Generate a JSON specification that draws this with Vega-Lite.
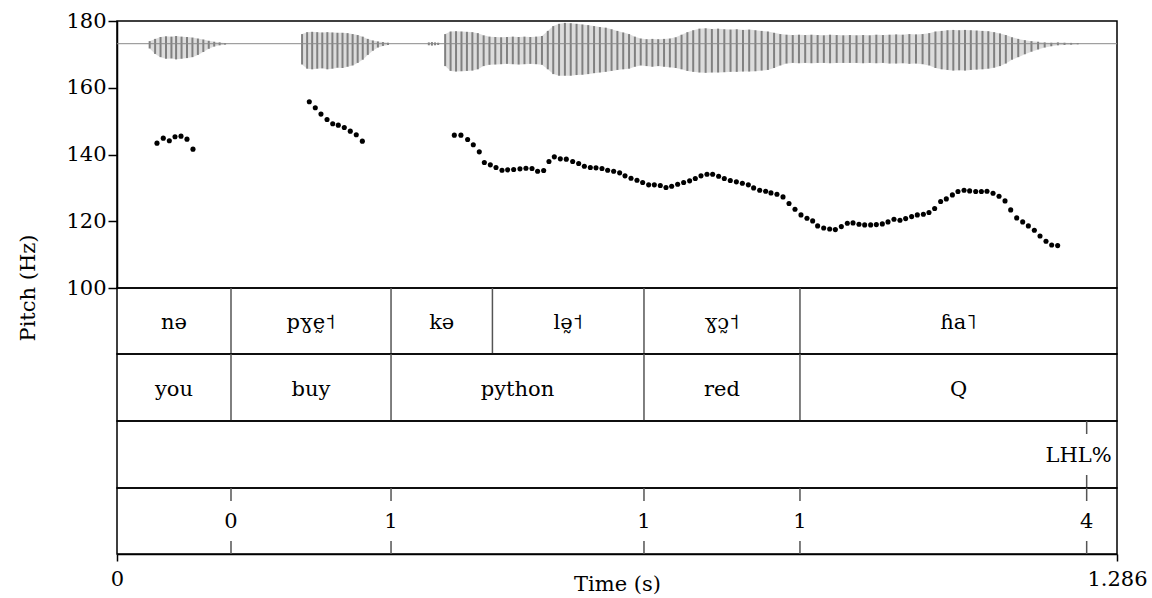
{
  "$schema": "https://vega.github.io/schema/vega-lite/v6.json",
  "padding": {"left": 16, "top": 9, "right": 5, "bottom": 5},
  "spacing": 0,
  "bounds": "flush",
  "config": {
    "view": {"stroke": "#000000", "strokeWidth": 1.5},
    "font": "DejaVu Serif",
    "axis": {
      "grid": false,
      "domainColor": "#000000",
      "domainWidth": 1.5,
      "tickColor": "#000000",
      "tickWidth": 1.5,
      "labelColor": "#000000",
      "titleColor": "#000000",
      "labelFont": "DejaVu Serif",
      "titleFont": "DejaVu Serif",
      "labelFontSize": 21,
      "titleFontSize": 21,
      "titleFontWeight": "normal"
    },
    "text": {"font": "DejaVu Serif", "fontSize": 21, "color": "#000000"}
  },
  "datasets": {
    "pitch": [
      {"t": 0.0514, "f0": 143.4}, {"t": 0.0595, "f0": 144.9}, {"t": 0.0673, "f0": 144.1}, {"t": 0.0746, "f0": 145.3},
      {"t": 0.0823, "f0": 145.5}, {"t": 0.0900, "f0": 144.6}, {"t": 0.0977, "f0": 141.6},
      {"t": 0.2473, "f0": 155.8}, {"t": 0.2550, "f0": 154.0}, {"t": 0.2623, "f0": 152.1}, {"t": 0.2701, "f0": 150.5},
      {"t": 0.2774, "f0": 149.2}, {"t": 0.2846, "f0": 148.8}, {"t": 0.2923, "f0": 148.1}, {"t": 0.3000, "f0": 147.0},
      {"t": 0.3077, "f0": 145.9}, {"t": 0.3155, "f0": 144.0},
      {"t": 0.4338, "f0": 145.8}, {"t": 0.4423, "f0": 145.8}, {"t": 0.4509, "f0": 144.5}, {"t": 0.4582, "f0": 142.9},
      {"t": 0.4659, "f0": 140.8}, {"t": 0.4724, "f0": 137.6}, {"t": 0.4801, "f0": 136.9}, {"t": 0.4874, "f0": 136.1},
      {"t": 0.4951, "f0": 135.3}, {"t": 0.5024, "f0": 135.4}, {"t": 0.5101, "f0": 135.5}, {"t": 0.5182, "f0": 135.7},
      {"t": 0.5259, "f0": 135.9}, {"t": 0.5337, "f0": 135.8}, {"t": 0.5409, "f0": 135.0}, {"t": 0.5487, "f0": 135.2},
      {"t": 0.5555, "f0": 137.9}, {"t": 0.5624, "f0": 139.3}, {"t": 0.5701, "f0": 138.7}, {"t": 0.5778, "f0": 138.6},
      {"t": 0.5860, "f0": 137.9}, {"t": 0.5937, "f0": 137.3}, {"t": 0.6010, "f0": 136.5}, {"t": 0.6087, "f0": 136.1},
      {"t": 0.6160, "f0": 136.0}, {"t": 0.6237, "f0": 135.8}, {"t": 0.6310, "f0": 135.3}, {"t": 0.6387, "f0": 135.0},
      {"t": 0.6464, "f0": 134.5}, {"t": 0.6533, "f0": 133.6}, {"t": 0.6610, "f0": 132.9}, {"t": 0.6687, "f0": 132.3},
      {"t": 0.6760, "f0": 131.6}, {"t": 0.6837, "f0": 130.9}, {"t": 0.6910, "f0": 130.9}, {"t": 0.6987, "f0": 130.7},
      {"t": 0.7060, "f0": 130.1}, {"t": 0.7133, "f0": 130.5}, {"t": 0.7210, "f0": 131.1}, {"t": 0.7287, "f0": 131.6},
      {"t": 0.7364, "f0": 132.1}, {"t": 0.7437, "f0": 132.8}, {"t": 0.7510, "f0": 133.6}, {"t": 0.7587, "f0": 134.1},
      {"t": 0.7660, "f0": 134.1}, {"t": 0.7737, "f0": 133.5}, {"t": 0.7810, "f0": 132.8}, {"t": 0.7887, "f0": 132.2},
      {"t": 0.7965, "f0": 131.8}, {"t": 0.8042, "f0": 131.4}, {"t": 0.8119, "f0": 130.9}, {"t": 0.8187, "f0": 130.0},
      {"t": 0.8265, "f0": 129.3}, {"t": 0.8342, "f0": 129.0}, {"t": 0.8410, "f0": 128.5}, {"t": 0.8487, "f0": 128.1},
      {"t": 0.8565, "f0": 127.3}, {"t": 0.8642, "f0": 125.3}, {"t": 0.8719, "f0": 123.6}, {"t": 0.8796, "f0": 121.9},
      {"t": 0.8873, "f0": 120.9}, {"t": 0.8946, "f0": 120.1}, {"t": 0.9010, "f0": 118.6}, {"t": 0.9088, "f0": 118.0},
      {"t": 0.9165, "f0": 117.7}, {"t": 0.9238, "f0": 117.5}, {"t": 0.9315, "f0": 118.4}, {"t": 0.9392, "f0": 119.4},
      {"t": 0.9465, "f0": 119.5}, {"t": 0.9542, "f0": 119.1}, {"t": 0.9615, "f0": 118.9}, {"t": 0.9692, "f0": 118.9},
      {"t": 0.9765, "f0": 119.0}, {"t": 0.9842, "f0": 119.2}, {"t": 0.9915, "f0": 119.8}, {"t": 0.9992, "f0": 120.6},
      {"t": 1.0069, "f0": 120.3}, {"t": 1.0142, "f0": 120.8}, {"t": 1.0219, "f0": 121.4}, {"t": 1.0292, "f0": 121.9},
      {"t": 1.0370, "f0": 122.1}, {"t": 1.0442, "f0": 122.6}, {"t": 1.0515, "f0": 123.8}, {"t": 1.0592, "f0": 125.9},
      {"t": 1.0665, "f0": 126.7}, {"t": 1.0743, "f0": 127.9}, {"t": 1.0815, "f0": 128.9}, {"t": 1.0893, "f0": 129.3},
      {"t": 1.0965, "f0": 129.1}, {"t": 1.1043, "f0": 128.9}, {"t": 1.1116, "f0": 128.9}, {"t": 1.1188, "f0": 129.0},
      {"t": 1.1266, "f0": 128.4}, {"t": 1.1343, "f0": 127.5}, {"t": 1.1420, "f0": 126.1}, {"t": 1.1493, "f0": 123.4},
      {"t": 1.1570, "f0": 121.0}, {"t": 1.1647, "f0": 119.8}, {"t": 1.1720, "f0": 118.6}, {"t": 1.1797, "f0": 117.3},
      {"t": 1.1870, "f0": 115.6}, {"t": 1.1947, "f0": 114.0}, {"t": 1.2020, "f0": 112.9}, {"t": 1.2097, "f0": 112.7}
    ],
    "wave": [
      {"t": 0.042, "hi": 0.08, "lo": -0.15}, {"t": 0.049, "hi": 0.15, "lo": -0.32}, {"t": 0.056, "hi": 0.21, "lo": -0.42},
      {"t": 0.063, "hi": 0.23, "lo": -0.47}, {"t": 0.070, "hi": 0.22, "lo": -0.46}, {"t": 0.076, "hi": 0.24, "lo": -0.49},
      {"t": 0.083, "hi": 0.22, "lo": -0.47}, {"t": 0.090, "hi": 0.21, "lo": -0.45}, {"t": 0.097, "hi": 0.19, "lo": -0.42},
      {"t": 0.104, "hi": 0.16, "lo": -0.35}, {"t": 0.111, "hi": 0.13, "lo": -0.26}, {"t": 0.118, "hi": 0.09, "lo": -0.16},
      {"t": 0.125, "hi": 0.06, "lo": -0.09}, {"t": 0.132, "hi": 0.04, "lo": -0.05}, {"t": 0.139, "hi": 0.02, "lo": -0.03},
      {"t": 0.238, "hi": 0.30, "lo": -0.65}, {"t": 0.2445, "hi": 0.36, "lo": -0.78}, {"t": 0.251, "hi": 0.37, "lo": -0.80},
      {"t": 0.2575, "hi": 0.36, "lo": -0.78}, {"t": 0.264, "hi": 0.35, "lo": -0.77}, {"t": 0.2705, "hi": 0.36, "lo": -0.80},
      {"t": 0.277, "hi": 0.35, "lo": -0.78}, {"t": 0.2835, "hi": 0.34, "lo": -0.75}, {"t": 0.290, "hi": 0.34, "lo": -0.76},
      {"t": 0.2965, "hi": 0.33, "lo": -0.72}, {"t": 0.303, "hi": 0.30, "lo": -0.68}, {"t": 0.3095, "hi": 0.27, "lo": -0.60},
      {"t": 0.316, "hi": 0.22, "lo": -0.50}, {"t": 0.3225, "hi": 0.15, "lo": -0.35}, {"t": 0.329, "hi": 0.10, "lo": -0.22},
      {"t": 0.3355, "hi": 0.07, "lo": -0.12}, {"t": 0.342, "hi": 0.05, "lo": -0.07}, {"t": 0.3485, "hi": 0.03, "lo": -0.04},
      {"t": 0.401, "hi": 0.04, "lo": -0.05}, {"t": 0.405, "hi": 0.05, "lo": -0.06}, {"t": 0.409, "hi": 0.04, "lo": -0.05},
      {"t": 0.413, "hi": 0.03, "lo": -0.04},
      {"t": 0.422, "hi": 0.30, "lo": -0.70}, {"t": 0.429, "hi": 0.38, "lo": -0.85}, {"t": 0.436, "hi": 0.39, "lo": -0.87},
      {"t": 0.443, "hi": 0.38, "lo": -0.86}, {"t": 0.450, "hi": 0.37, "lo": -0.85}, {"t": 0.457, "hi": 0.36, "lo": -0.84},
      {"t": 0.464, "hi": 0.33, "lo": -0.80}, {"t": 0.4715, "hi": 0.26, "lo": -0.70}, {"t": 0.479, "hi": 0.22, "lo": -0.66},
      {"t": 0.4865, "hi": 0.21, "lo": -0.65}, {"t": 0.494, "hi": 0.20, "lo": -0.64}, {"t": 0.5015, "hi": 0.21, "lo": -0.63},
      {"t": 0.509, "hi": 0.22, "lo": -0.64}, {"t": 0.5165, "hi": 0.21, "lo": -0.65}, {"t": 0.524, "hi": 0.22, "lo": -0.64},
      {"t": 0.5315, "hi": 0.21, "lo": -0.63}, {"t": 0.539, "hi": 0.22, "lo": -0.64}, {"t": 0.5465, "hi": 0.24, "lo": -0.66},
      {"t": 0.554, "hi": 0.40, "lo": -0.80}, {"t": 0.561, "hi": 0.55, "lo": -0.95}, {"t": 0.5685, "hi": 0.62, "lo": -1.00},
      {"t": 0.576, "hi": 0.65, "lo": -1.00}, {"t": 0.5835, "hi": 0.64, "lo": -1.00}, {"t": 0.591, "hi": 0.62, "lo": -0.98},
      {"t": 0.5985, "hi": 0.60, "lo": -0.97}, {"t": 0.606, "hi": 0.58, "lo": -0.95}, {"t": 0.6135, "hi": 0.55, "lo": -0.92},
      {"t": 0.621, "hi": 0.52, "lo": -0.90}, {"t": 0.6285, "hi": 0.50, "lo": -0.88}, {"t": 0.636, "hi": 0.45, "lo": -0.85},
      {"t": 0.6435, "hi": 0.40, "lo": -0.82}, {"t": 0.651, "hi": 0.35, "lo": -0.80}, {"t": 0.6585, "hi": 0.30, "lo": -0.78},
      {"t": 0.666, "hi": 0.22, "lo": -0.72}, {"t": 0.6735, "hi": 0.16, "lo": -0.68}, {"t": 0.681, "hi": 0.14, "lo": -0.70},
      {"t": 0.6885, "hi": 0.15, "lo": -0.72}, {"t": 0.696, "hi": 0.14, "lo": -0.70}, {"t": 0.7035, "hi": 0.15, "lo": -0.72},
      {"t": 0.711, "hi": 0.16, "lo": -0.74}, {"t": 0.7185, "hi": 0.20, "lo": -0.76}, {"t": 0.726, "hi": 0.28, "lo": -0.80},
      {"t": 0.7335, "hi": 0.36, "lo": -0.85}, {"t": 0.741, "hi": 0.42, "lo": -0.88}, {"t": 0.749, "hi": 0.47, "lo": -0.90},
      {"t": 0.757, "hi": 0.48, "lo": -0.91}, {"t": 0.765, "hi": 0.46, "lo": -0.90}, {"t": 0.773, "hi": 0.47, "lo": -0.90},
      {"t": 0.781, "hi": 0.45, "lo": -0.89}, {"t": 0.789, "hi": 0.44, "lo": -0.88}, {"t": 0.797, "hi": 0.45, "lo": -0.88},
      {"t": 0.805, "hi": 0.43, "lo": -0.87}, {"t": 0.813, "hi": 0.44, "lo": -0.87}, {"t": 0.821, "hi": 0.42, "lo": -0.86},
      {"t": 0.829, "hi": 0.40, "lo": -0.84}, {"t": 0.837, "hi": 0.38, "lo": -0.82}, {"t": 0.845, "hi": 0.34, "lo": -0.76},
      {"t": 0.853, "hi": 0.30, "lo": -0.68}, {"t": 0.861, "hi": 0.28, "lo": -0.62}, {"t": 0.869, "hi": 0.27, "lo": -0.60},
      {"t": 0.877, "hi": 0.28, "lo": -0.61}, {"t": 0.885, "hi": 0.27, "lo": -0.60}, {"t": 0.893, "hi": 0.28, "lo": -0.61},
      {"t": 0.901, "hi": 0.27, "lo": -0.60}, {"t": 0.909, "hi": 0.26, "lo": -0.60}, {"t": 0.917, "hi": 0.28, "lo": -0.61},
      {"t": 0.9255, "hi": 0.27, "lo": -0.60}, {"t": 0.934, "hi": 0.26, "lo": -0.60}, {"t": 0.9425, "hi": 0.27, "lo": -0.60},
      {"t": 0.951, "hi": 0.26, "lo": -0.60}, {"t": 0.9595, "hi": 0.27, "lo": -0.61}, {"t": 0.968, "hi": 0.26, "lo": -0.60},
      {"t": 0.9765, "hi": 0.28, "lo": -0.61}, {"t": 0.985, "hi": 0.27, "lo": -0.60}, {"t": 0.9935, "hi": 0.28, "lo": -0.62},
      {"t": 1.002, "hi": 0.29, "lo": -0.62}, {"t": 1.0105, "hi": 0.28, "lo": -0.61}, {"t": 1.019, "hi": 0.30, "lo": -0.63},
      {"t": 1.0275, "hi": 0.29, "lo": -0.62}, {"t": 1.036, "hi": 0.30, "lo": -0.64}, {"t": 1.0445, "hi": 0.33, "lo": -0.68},
      {"t": 1.0525, "hi": 0.38, "lo": -0.76}, {"t": 1.0605, "hi": 0.40, "lo": -0.80}, {"t": 1.068, "hi": 0.42, "lo": -0.82},
      {"t": 1.0755, "hi": 0.43, "lo": -0.84}, {"t": 1.083, "hi": 0.42, "lo": -0.83}, {"t": 1.0905, "hi": 0.43, "lo": -0.84},
      {"t": 1.098, "hi": 0.42, "lo": -0.82}, {"t": 1.1055, "hi": 0.41, "lo": -0.81}, {"t": 1.113, "hi": 0.40, "lo": -0.80},
      {"t": 1.1205, "hi": 0.39, "lo": -0.78}, {"t": 1.128, "hi": 0.36, "lo": -0.75}, {"t": 1.1355, "hi": 0.32, "lo": -0.70},
      {"t": 1.143, "hi": 0.27, "lo": -0.62}, {"t": 1.151, "hi": 0.20, "lo": -0.50}, {"t": 1.159, "hi": 0.15, "lo": -0.42},
      {"t": 1.1675, "hi": 0.11, "lo": -0.33}, {"t": 1.176, "hi": 0.08, "lo": -0.25}, {"t": 1.1845, "hi": 0.06, "lo": -0.18},
      {"t": 1.193, "hi": 0.04, "lo": -0.12}, {"t": 1.2015, "hi": 0.03, "lo": -0.08}, {"t": 1.21, "hi": 0.04, "lo": -0.05},
      {"t": 1.2185, "hi": 0.03, "lo": -0.04}, {"t": 1.227, "hi": 0.025, "lo": -0.03}, {"t": 1.2355, "hi": 0.02, "lo": -0.02}
    ],
    "intervals": [
      {"tier": "phones", "start": 0, "end": 0.1466, "label": "nə"},
      {"tier": "phones", "start": 0.1466, "end": 0.3524, "label": "pɣḛ˦"},
      {"tier": "phones", "start": 0.3524, "end": 0.4828, "label": "kə"},
      {"tier": "phones", "start": 0.4828, "end": 0.6777, "label": "lə̰˦"},
      {"tier": "phones", "start": 0.6777, "end": 0.8783, "label": "ɣɔ̰˦"},
      {"tier": "phones", "start": 0.8783, "end": 1.286, "label": "ɦa˥"},
      {"tier": "words", "start": 0, "end": 0.1466, "label": "you"},
      {"tier": "words", "start": 0.1466, "end": 0.3524, "label": "buy"},
      {"tier": "words", "start": 0.3524, "end": 0.6777, "label": "python"},
      {"tier": "words", "start": 0.6777, "end": 0.8783, "label": "red"},
      {"tier": "words", "start": 0.8783, "end": 1.286, "label": "Q"}
    ],
    "points": [
      {"tier": "tones", "t": 1.247, "label": "LHL%"},
      {"tier": "breaks", "t": 0.1466, "label": "0"},
      {"tier": "breaks", "t": 0.3524, "label": "1"},
      {"tier": "breaks", "t": 0.6777, "label": "1"},
      {"tier": "breaks", "t": 0.8783, "label": "1"},
      {"tier": "breaks", "t": 1.247, "label": "4"}
    ]
  },
  "vconcat": [
    {
      "width": 1000,
      "height": 267,
      "layer": [
        {
          "data": {"name": "pitch"},
          "mark": {"type": "circle", "color": "#000000", "opacity": 1, "size": 26},
          "encoding": {
            "x": {"field": "t", "type": "quantitative", "scale": {"domain": [0, 1.286], "nice": false, "zero": false}, "axis": null},
            "y": {
              "field": "f0", "type": "quantitative",
              "scale": {"domain": [100, 180], "nice": false, "zero": false},
              "axis": {
                "orient": "left", "values": [100, 120, 140, 160, 180], "tickSize": 9, "labelPadding": 2,
                "title": "Pitch (Hz)", "titleAngle": 270, "titleAlign": "center", "titleBaseline": "alphabetic",
                "titleX": -83, "titleY": 266.5
              }
            }
          }
        },
        {
          "layer": [
            {
              "data": {"name": "wave"},
              "transform": [{"filter": "datum.t < 0.2"}],
              "mark": {"type": "area", "color": "#8c8c8c", "opacity": 0.3},
              "encoding": {
                "x": {"field": "t", "type": "quantitative", "scale": {"domain": [0, 1.286], "nice": false, "zero": false}, "axis": null},
                "y": {"field": "hi", "type": "quantitative", "scale": {"domain": [-7.634, 0.709], "nice": false, "zero": false}, "axis": null},
                "y2": {"field": "lo"}
              }
            },
            {
              "data": {"name": "wave"},
              "transform": [{"filter": "datum.t > 0.2 && datum.t < 0.37"}],
              "mark": {"type": "area", "color": "#8c8c8c", "opacity": 0.3},
              "encoding": {
                "x": {"field": "t", "type": "quantitative", "scale": {"domain": [0, 1.286], "nice": false, "zero": false}, "axis": null},
                "y": {"field": "hi", "type": "quantitative", "scale": {"domain": [-7.634, 0.709], "nice": false, "zero": false}, "axis": null},
                "y2": {"field": "lo"}
              }
            },
            {
              "data": {"name": "wave"},
              "transform": [{"filter": "datum.t > 0.415"}],
              "mark": {"type": "area", "color": "#8c8c8c", "opacity": 0.3},
              "encoding": {
                "x": {"field": "t", "type": "quantitative", "scale": {"domain": [0, 1.286], "nice": false, "zero": false}, "axis": null},
                "y": {"field": "hi", "type": "quantitative", "scale": {"domain": [-7.634, 0.709], "nice": false, "zero": false}, "axis": null},
                "y2": {"field": "lo"}
              }
            },
            {
              "data": {"name": "wave"},
              "mark": {"type": "rule", "color": "#808080", "strokeWidth": 2},
              "encoding": {
                "x": {"field": "t", "type": "quantitative", "scale": {"domain": [0, 1.286], "nice": false, "zero": false}, "axis": null},
                "y": {"field": "hi", "type": "quantitative", "scale": {"domain": [-7.634, 0.709], "nice": false, "zero": false}, "axis": null},
                "y2": {"field": "lo"}
              }
            },
            {
              "data": {"values": [{"amp": 0}]},
              "mark": {"type": "rule", "color": "#8a8a8a", "strokeWidth": 1},
              "encoding": {
                "y": {"field": "amp", "type": "quantitative", "scale": {"domain": [-7.634, 0.709], "nice": false, "zero": false}, "axis": null}
              }
            }
          ]
        }
      ],
      "resolve": {"scale": {"y": "independent"}, "axis": {"y": "independent"}}
    },
    {
      "width": 1000,
      "height": 66,
      "data": {"name": "intervals"},
      "transform": [{"filter": "datum.tier === 'phones'"}],
      "layer": [
        {
          "transform": [{"filter": "datum.start > 0"}],
          "mark": {"type": "rule", "color": "#555555", "strokeWidth": 1.5},
          "encoding": {"x": {"field": "start", "type": "quantitative", "scale": {"domain": [0, 1.286], "nice": false, "zero": false}, "axis": null}}
        },
        {
          "transform": [{"fold": ["start", "end"], "as": ["edge", "time"]}],
          "mark": {"type": "text", "baseline": "middle", "dy": 2},
          "encoding": {
            "x": {"aggregate": "mean", "field": "time", "type": "quantitative", "scale": {"domain": [0, 1.286], "nice": false, "zero": false}, "axis": null},
            "text": {"field": "label"}
          }
        }
      ]
    },
    {
      "width": 1000,
      "height": 67,
      "data": {"name": "intervals"},
      "transform": [{"filter": "datum.tier === 'words'"}],
      "layer": [
        {
          "transform": [{"filter": "datum.start > 0"}],
          "mark": {"type": "rule", "color": "#555555", "strokeWidth": 1.5},
          "encoding": {"x": {"field": "start", "type": "quantitative", "scale": {"domain": [0, 1.286], "nice": false, "zero": false}, "axis": null}}
        },
        {
          "transform": [{"fold": ["start", "end"], "as": ["edge", "time"]}],
          "mark": {"type": "text", "baseline": "middle", "dy": 2},
          "encoding": {
            "x": {"aggregate": "mean", "field": "time", "type": "quantitative", "scale": {"domain": [0, 1.286], "nice": false, "zero": false}, "axis": null},
            "text": {"field": "label"}
          }
        }
      ]
    },
    {
      "width": 1000,
      "height": 67,
      "data": {"name": "points"},
      "transform": [{"filter": "datum.tier === 'tones'"}],
      "layer": [
        {
          "mark": {"type": "rule", "color": "#555555", "strokeWidth": 1.5, "strokeDash": [13, 41]},
          "encoding": {"x": {"field": "t", "type": "quantitative", "scale": {"domain": [0, 1.286], "nice": false, "zero": false}, "axis": null}}
        },
        {
          "mark": {"type": "text", "baseline": "middle", "align": "right", "dx": 25, "dy": 1},
          "encoding": {
            "x": {"field": "t", "type": "quantitative", "scale": {"domain": [0, 1.286], "nice": false, "zero": false}, "axis": null},
            "text": {"field": "label"}
          }
        }
      ]
    },
    {
      "width": 1000,
      "height": 66,
      "data": {"name": "points"},
      "transform": [{"filter": "datum.tier === 'breaks'"}],
      "layer": [
        {
          "mark": {"type": "rule", "color": "#555555", "strokeWidth": 1.5, "strokeDash": [13, 40]},
          "encoding": {
            "x": {
              "field": "t", "type": "quantitative", "scale": {"domain": [0, 1.286], "nice": false, "zero": false},
              "axis": {
                "values": [0, 1.286], "format": ".3~f", "labelFlush": false, "tickSize": 7, "labelPadding": 7,
                "title": "Time (s)", "titleBaseline": "alphabetic", "titleY": 36
              }
            }
          }
        },
        {
          "mark": {"type": "text", "baseline": "middle", "dy": 1},
          "encoding": {
            "x": {
              "field": "t", "type": "quantitative", "scale": {"domain": [0, 1.286], "nice": false, "zero": false},
              "axis": {
                "values": [0, 1.286], "format": ".3~f", "labelFlush": false, "tickSize": 7, "labelPadding": 7,
                "title": "Time (s)", "titleBaseline": "alphabetic", "titleY": 36
              }
            },
            "text": {"field": "label"}
          }
        }
      ]
    }
  ]
}
